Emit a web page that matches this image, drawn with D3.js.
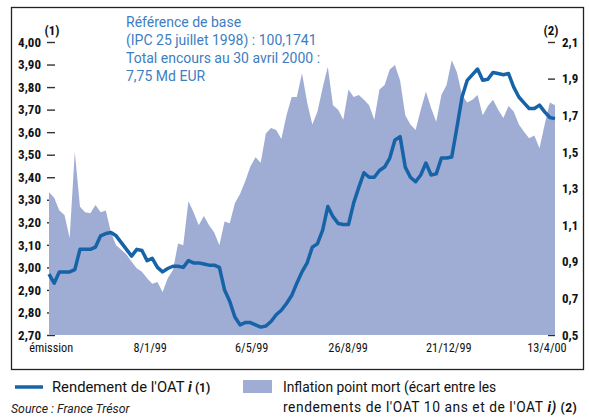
<!DOCTYPE html>
<html>
    <head>
        <meta charset="utf-8">
        <title>OATi</title>
        <script src="https://d3js.org/d3.v7.min.js"></script>
        <style>
            body { margin: 0; background: #fff; }
            text { font-family: Roboto, "Liberation Sans", Arial, sans-serif; }
            .cond text, text.cond { font-stretch: condensed; }
        </style>
    </head>
    <body>
        <svg id='mainsvg' width='589' height='418'></svg>
        <script>
            // one reading every 6 days, starting a couple of days before issue
            const START = new Date(1998, 8, 13);
            const STEP_DAYS = 6;

            // rendement de l'OATi, axe (1)
            const yields = [2.97, 2.93, 2.98, 2.98, 2.98, 2.99, 3.08, 3.08, 3.08, 3.09,
                3.14, 3.15, 3.155, 3.14, 3.11, 3.08, 3.05, 3.08, 3.075, 3.03,
                3.04, 3.00, 2.98, 2.995, 3.005, 3.005, 3.00, 3.03, 3.02, 3.02,
                3.015, 3.01, 3.01, 3.00, 2.90, 2.85, 2.78, 2.745, 2.755, 2.755,
                2.745, 2.735, 2.74, 2.76, 2.79, 2.81, 2.84, 2.875, 2.93, 2.98,
                3.02, 3.09, 3.105, 3.165, 3.27, 3.225, 3.195, 3.19, 3.19, 3.285,
                3.355, 3.42, 3.40, 3.40, 3.43, 3.445, 3.485, 3.565, 3.58, 3.445,
                3.40, 3.38, 3.41, 3.463, 3.41, 3.415, 3.485, 3.485, 3.49, 3.62,
                3.756, 3.83, 3.855, 3.88, 3.83, 3.835, 3.865, 3.86, 3.855, 3.86,
                3.80, 3.756, 3.73, 3.705, 3.705, 3.72, 3.69, 3.665, 3.66];

            // inflation point mort, axe (2)
            const breakeven = [1.28, 1.25, 1.18, 1.155, 1.03, 1.50, 1.20, 1.17, 1.165, 1.21,
                1.17, 1.18, 1.06, 0.99, 0.965, 0.94, 0.90, 0.865, 0.845, 0.81,
                0.78, 0.79, 0.735, 0.81, 0.855, 1.00, 0.99, 1.23, 1.17, 1.10,
                1.15, 1.10, 1.06, 0.99, 1.12, 1.11, 1.22, 1.27, 1.34, 1.42,
                1.47, 1.44, 1.60, 1.63, 1.62, 1.57, 1.70, 1.80, 1.80, 1.93,
                1.77, 1.65, 1.72, 1.85, 1.965, 1.755, 1.73, 1.675, 1.84, 1.80,
                1.81, 1.785, 1.755, 1.675, 1.84, 1.865, 1.95, 1.975, 1.89, 1.70,
                1.65, 1.62, 1.73, 1.83, 1.74, 1.665, 1.81, 1.865, 2.00, 1.935,
                1.81, 1.77, 1.785, 1.81, 1.70, 1.75, 1.785, 1.73, 1.685, 1.75,
                1.72, 1.65, 1.61, 1.575, 1.59, 1.52, 1.65, 1.77, 1.755];

            const leftTicks = [2.7, 2.8, 2.9, 3.0, 3.1, 3.2, 3.3, 3.4, 3.5, 3.6, 3.7, 3.8, 3.9, 4.0];
            const rightTicks = [0.5, 0.7, 0.9, 1.1, 1.3, 1.5, 1.7, 1.9, 2.1];
            const xTickDates = ["1998-09-15", "1999-01-08", "1999-05-06", "1999-08-26", "1999-12-21", "2000-04-13"];
            const xTickLabels = ["émission", "8/1/99", "6/5/99", "26/8/99", "21/12/99", "13/4/00"];

            const noteLines = ["Référence de base", "(IPC 25 juillet 1998) : 100,1741",
                "Total encours au 30 avril 2000 :", "7,75 Md EUR"];

            const LINE_COLOR = "#1663a8";
            const AREA_COLOR = "#9facd4";

            const fr = d3.formatLocale({decimal: ",", thousands: " ", grouping: [3], currency: ["", " €"]});

            const data = yields.map((v, i) => ({
                date: d3.timeDay.offset(START, i * STEP_DAYS),
                oat: v,
                pm: breakeven[i]
            }));

            const svg = d3.select('#mainsvg');

            const x = d3.scaleTime()
                .domain(d3.extent(data, d => d.date))
                .range([49, 555]);
            const yL = d3.scaleLinear().domain([2.7, 4.0]).range([335, 42]);
            const yR = d3.scaleLinear().domain([0.5, 2.1]).range([335, 42]);

            // cadre
            svg.append("rect")
                .attr("x", 11.5).attr("y", 7.5)
                .attr("width", 572).attr("height", 362)
                .attr("fill", "none").attr("stroke", "#222").attr("stroke-width", 1.3);

            // axes (drawn under the area so the ticks hide behind it)
            const axL = svg.append("g")
                .attr("class", "cond")
                .attr("transform", "translate(55,0)")
                .call(d3.axisLeft(yL).tickValues(leftTicks).tickSize(8).tickPadding(6)
                    .tickFormat(fr.format(".2f")));
            const axR = svg.append("g")
                .attr("class", "cond")
                .attr("transform", "translate(548,0)")
                .call(d3.axisRight(yR).tickValues(rightTicks).tickSize(7).tickPadding(7)
                    .tickFormat(fr.format(".1f")));
            [axL, axR].forEach(ax => {
                ax.select(".domain").remove();
                ax.selectAll("line").attr("stroke", "#333").attr("stroke-width", 1.4);
                ax.selectAll("text")
                    .attr("fill", "#111")
                    .attr("font-size", 13)
                    .attr("font-weight", "bold");
            });

            const axX = svg.append("g")
                .attr("class", "cond")
                .attr("transform", "translate(0,335)")
                .call(d3.axisBottom(x)
                    .tickValues(xTickDates.map(d => d3.timeParse("%Y-%m-%d")(d)))
                    .tickSize(0).tickPadding(8)
                    .tickFormat((d, i) => xTickLabels[i]));
            axX.select(".domain").remove();
            axX.selectAll("text")
                .attr("fill", "#111")
                .attr("font-size", 12.3);

            // inflation point mort
            const area = d3.area()
                .x(d => x(d.date))
                .y0(yR(0.5))
                .y1(d => yR(d.pm));
            svg.append("path")
                .datum(data)
                .attr("fill", AREA_COLOR)
                .attr("d", area);

            // rendement OATi
            const line = d3.line()
                .x(d => x(d.date))
                .y(d => yL(d.oat));
            svg.append("path")
                .datum(data)
                .attr("fill", "none")
                .attr("stroke", LINE_COLOR)
                .attr("stroke-width", 3.5)
                .attr("stroke-linejoin", "round")
                .attr("d", line);

            // unit markers
            svg.append("text").attr("class", "cond").attr("x", 52).attr("y", 35)
                .attr("text-anchor", "middle").attr("font-size", 13).attr("font-weight", "bold")
                .attr("fill", "#111").text("(1)");
            svg.append("text").attr("class", "cond").attr("x", 551).attr("y", 35)
                .attr("text-anchor", "middle").attr("font-size", 13).attr("font-weight", "bold")
                .attr("fill", "#111").text("(2)");

            // note
            svg.append("g")
                .selectAll("text")
                .data(noteLines)
                .join("text")
                .attr("x", 126)
                .attr("y", (d, i) => 27 + i * 18)
                .attr("font-size", 14)
                .attr("fill", "#3d7ec2")
                .text(d => d);

            // legende
            svg.append("line")
                .attr("x1", 15).attr("x2", 43).attr("y1", 387).attr("y2", 387)
                .attr("stroke", LINE_COLOR).attr("stroke-width", 3.5);
            const t1 = svg.append("text").attr("x", 52).attr("y", 392)
                .attr("font-size", 14.8).attr("fill", "#111");
            t1.append("tspan").text("Rendement de l'OAT");
            t1.append("tspan").attr("font-style", "italic").attr("font-weight", "bold").text(" i");
            t1.append("tspan").attr("font-weight", "bold").attr("font-size", 12).text(" (1)");

            svg.append("rect")
                .attr("x", 243).attr("y", 380).attr("width", 29).attr("height", 13)
                .attr("fill", AREA_COLOR);
            svg.append("text").attr("x", 283).attr("y", 392)
                .attr("font-size", 13.8).attr("fill", "#111")
                .text("Inflation point mort (écart entre les");
            const t2 = svg.append("text").attr("x", 283).attr("y", 412)
                .attr("font-size", 13.8).attr("letter-spacing", 0.55).attr("fill", "#111");
            t2.append("tspan").text("rendements de l'OAT 10 ans et de l'OAT");
            t2.append("tspan").attr("font-style", "italic").attr("font-weight", "bold").text(" i)");
            t2.append("tspan").attr("font-weight", "bold").attr("font-size", 12).text(" (2)");

            svg.append("text").attr("x", 11).attr("y", 413)
                .attr("font-size", 12.3).attr("font-style", "italic").attr("fill", "#222")
                .text("Source : France Trésor");
        </script>
    </body>
</html>
